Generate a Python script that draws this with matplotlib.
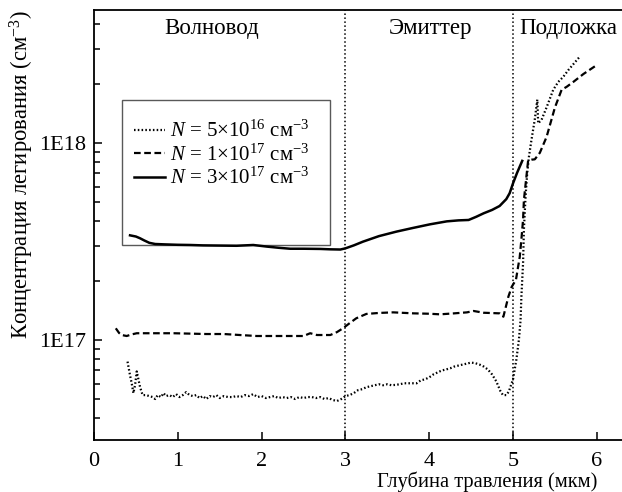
import numpy as np
import matplotlib.pyplot as plt
from matplotlib.patches import Rectangle

plt.rcParams['font.family'] = ['Liberation Serif', 'DejaVu Serif']
plt.rcParams['mathtext.fontset'] = 'custom'
plt.rcParams['mathtext.rm'] = 'Liberation Serif'
plt.rcParams['mathtext.it'] = 'Liberation Serif:italic'

# depth (um) and log10 of doping concentration (cm^-3)
x_5e16 = [0.40, 0.43, 0.45, 0.47, 0.49, 0.51, 0.53, 0.55, 0.58, 0.62, 0.66, 0.70,
          0.73, 0.76, 0.80, 0.83, 0.86, 0.90, 0.94, 0.98, 1.02, 1.06, 1.10, 1.14,
          1.18, 1.22, 1.26, 1.30, 1.34, 1.38, 1.42, 1.46, 1.50, 1.55, 1.60, 1.65,
          1.70, 1.75, 1.80, 1.85, 1.90, 1.95, 2.00, 2.05, 2.10, 2.15, 2.20, 2.25,
          2.30, 2.35, 2.40, 2.45, 2.50, 2.55, 2.60, 2.65, 2.70, 2.75, 2.80, 2.85,
          2.90, 2.95, 3.00, 3.05, 3.10, 3.15, 3.20, 3.25, 3.30, 3.35, 3.40, 3.45,
          3.50, 3.55, 3.60, 3.65, 3.70, 3.75, 3.80, 3.85, 3.90, 3.95, 4.00, 4.05,
          4.10, 4.15, 4.20, 4.25, 4.30, 4.35, 4.40, 4.45, 4.50, 4.55, 4.60, 4.65,
          4.70, 4.75, 4.80, 4.85, 4.88, 4.92, 4.95, 5.00, 5.04, 5.07, 5.09, 5.10,
          5.12, 5.13, 5.15, 5.17, 5.19, 5.22, 5.26, 5.29, 5.30, 5.34, 5.40, 5.48,
          5.54, 5.60, 5.66, 5.72, 5.78, 5.80]
lg_5e16 = [16.89, 16.82, 16.78, 16.73, 16.77, 16.84, 16.80, 16.76, 16.72, 16.72, 16.715, 16.71,
           16.70, 16.72, 16.71, 16.73, 16.715, 16.72, 16.71, 16.725, 16.71, 16.72, 16.735, 16.72,
           16.715, 16.72, 16.705, 16.715, 16.70, 16.715, 16.71, 16.72, 16.705, 16.715, 16.71, 16.71,
           16.715, 16.71, 16.72, 16.715, 16.725, 16.71, 16.715, 16.705, 16.71, 16.715, 16.705, 16.71,
           16.705, 16.71, 16.70, 16.71, 16.705, 16.71, 16.71, 16.705, 16.71, 16.70, 16.705, 16.695,
           16.69, 16.70, 16.715, 16.72, 16.73, 16.745, 16.75, 16.76, 16.765, 16.77, 16.775, 16.77,
           16.775, 16.77, 16.772, 16.775, 16.78, 16.78, 16.78, 16.78, 16.795, 16.80, 16.81, 16.825,
           16.835, 16.845, 16.85, 16.856, 16.865, 16.87, 16.875, 16.88, 16.885, 16.882, 16.875, 16.865,
           16.85, 16.825, 16.79, 16.74, 16.72, 16.72, 16.738, 16.80, 16.90, 17.00, 17.10, 17.22,
           17.39, 17.56, 17.73, 17.85, 17.93, 18.015, 18.12, 18.22, 18.10, 18.117, 18.18, 18.27,
           18.31, 18.336, 18.37, 18.40, 18.43, 18.44]

x_1e17 = [0.26, 0.30, 0.33, 0.39, 0.45, 0.51, 0.70, 0.95, 1.15, 1.34, 1.55, 1.74,
          1.94, 2.14, 2.34, 2.50, 2.58, 2.66, 2.74, 2.82, 2.90, 2.97, 3.05, 3.13,
          3.25, 3.40, 3.57, 3.81, 4.00, 4.13, 4.30, 4.45, 4.53, 4.65, 4.84, 4.885,
          4.945, 4.985, 5.035, 5.06, 5.08, 5.10, 5.12, 5.13, 5.155, 5.18, 5.22, 5.26,
          5.32, 5.40, 5.50, 5.58, 5.64, 5.72, 5.84, 5.98]
lg_1e17 = [17.059, 17.035, 17.025, 17.02, 17.028, 17.034, 17.034, 17.034, 17.032, 17.03, 17.03, 17.025,
           17.02, 17.02, 17.02, 17.02, 17.034, 17.025, 17.025, 17.025, 17.04, 17.059, 17.085, 17.11,
           17.132, 17.137, 17.14, 17.135, 17.133, 17.13, 17.135, 17.14, 17.147, 17.138, 17.135, 17.118,
           17.22, 17.27, 17.305, 17.37, 17.42, 17.51, 17.61, 17.71, 17.81, 17.91, 17.915, 17.917,
           17.95, 18.03, 18.18, 18.27, 18.285, 18.31, 18.35, 18.39]

x_3e17 = [0.43, 0.50, 0.55, 0.60, 0.66, 0.73, 0.85, 1.00, 1.15, 1.30, 1.50, 1.70,
          1.90, 2.06, 2.20, 2.34, 2.50, 2.70, 2.82, 2.94, 3.00, 3.10, 3.21, 3.40,
          3.61, 3.80, 4.01, 4.21, 4.35, 4.47, 4.56, 4.65, 4.75, 4.84, 4.92, 4.96,
          5.00, 5.05, 5.11]
lg_3e17 = [17.531, 17.525, 17.516, 17.505, 17.493, 17.487, 17.485, 17.483, 17.482, 17.480, 17.479, 17.478,
           17.482, 17.474, 17.468, 17.463, 17.463, 17.462, 17.460, 17.459, 17.465, 17.480, 17.499, 17.527,
           17.55, 17.568, 17.587, 17.602, 17.607, 17.609, 17.625, 17.643, 17.66, 17.68, 17.715, 17.745,
           17.795, 17.85, 17.909]

labels = [r'$N$ = 5×10$^{16}$ см$^{-3}$',
          r'$N$ = 1×10$^{17}$ см$^{-3}$',
          r'$N$ = 3×10$^{17}$ см$^{-3}$']
boundaries = [3, 5]
regions = ['Волновод', 'Эмиттер', 'Подложка']
region_x = [1.41, 4.01, 5.66]

fig = plt.figure(figsize=(6.22, 4.92), dpi=100)
ax = fig.add_axes([94/622, 52/492, 536/622, 430/492])

ax.plot(x_5e16, 10**np.array(lg_5e16), color='k', lw=1.6, ls=(0, (0.7, 1.0)), label=labels[0])
ax.plot(x_1e17, 10**np.array(lg_1e17), color='k', lw=1.6, ls=(0, (3, 1.6)), label=labels[1])
ax.plot(x_3e17, 10**np.array(lg_3e17), color='k', lw=1.8, ls='-', label=labels[2])

for b in boundaries:
    ax.axvline(b, color='k', lw=1.1, ls=(0, (1, 1.6)))
for name, xr in zip(regions, region_x):
    ax.text(xr, 0.958, name, transform=ax.get_xaxis_transform(),
            ha='center', va='center', fontsize=16.5)

ax.set_yscale('log')
ax.set_xlim(0, 6.396)
ax.set_ylim(10**16.492, 10**18.675)
ax.set_xticks([0, 1, 2, 3, 4, 5, 6])
ax.set_yticks([1e17, 1e18])
ax.set_yticklabels(['1E17', '1E18'])
ax.tick_params(which='both', direction='in', labelsize=16, width=1.1)
ax.tick_params(which='major', length=6, pad=6)
ax.tick_params(axis='x', which='major', pad=9)
ax.tick_params(which='minor', length=4)
ax.tick_params(axis='x', which='minor', bottom=False)
for s in ax.spines.values():
    s.set_linewidth(1.3)

ax.set_xlabel('Глубина травления (мкм)', fontsize=14.8, ha='right', va='center')
ax.xaxis.set_label_coords(0.94, -0.097)
ax.set_ylabel('Концентрация легирования (см$^{-3}$)', fontsize=16.3, va='center')
ax.yaxis.set_label_coords(-0.134, 0.616)

leg = ax.legend(loc='upper left', bbox_to_anchor=(0.06, 0.762), frameon=False,
                fontsize=15, handlelength=1.45, handletextpad=0.25,
                labelspacing=0.12, borderaxespad=0)
ax.add_patch(Rectangle((0.052, 0.453), 0.388, 0.338, transform=ax.transAxes,
                       fill=False, ec='0.35', lw=1.0))

fig.savefig('out.png', dpi=100)
